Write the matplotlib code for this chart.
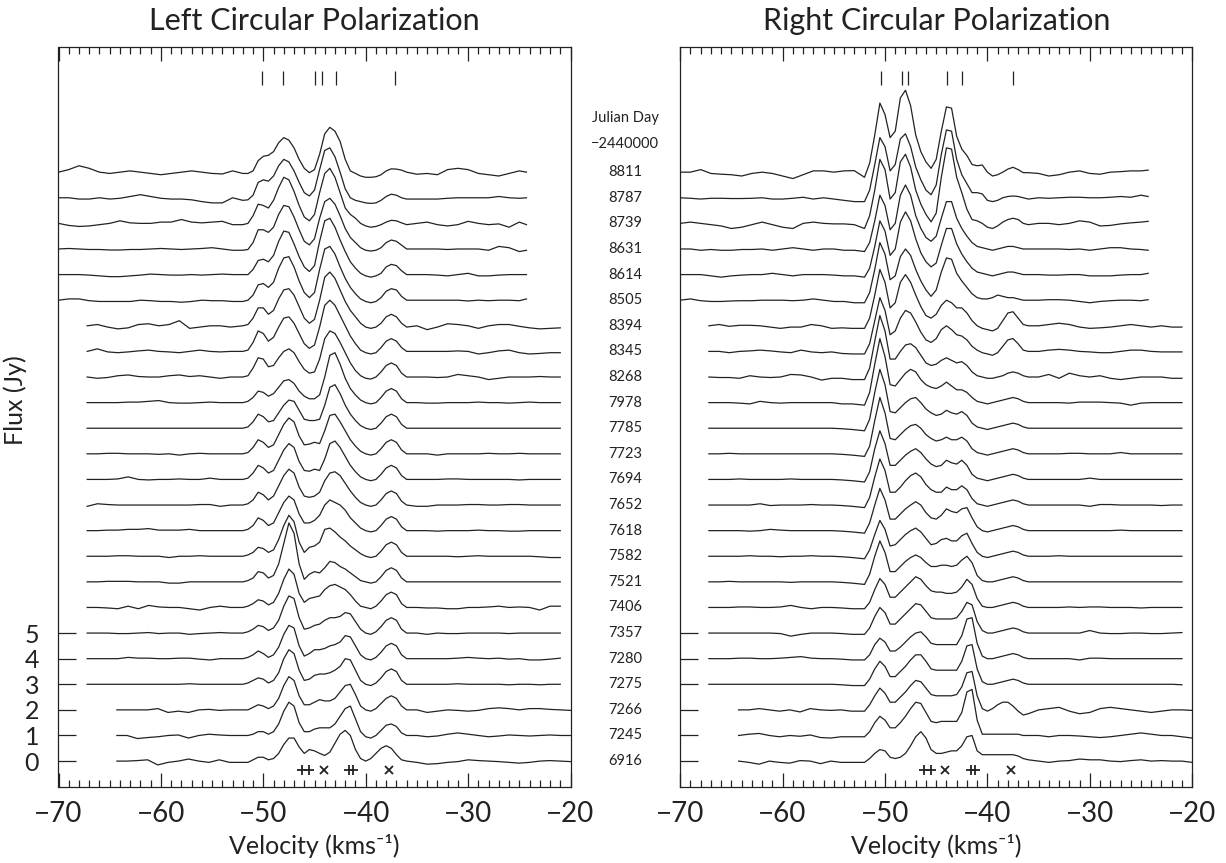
import numpy as np
import matplotlib
matplotlib.use("Agg")
import matplotlib.pyplot as plt
from matplotlib.ticker import MultipleLocator

plt.rcParams['font.family'] = ['Lato', 'DejaVu Sans']
plt.rcParams['font.weight'] = 'normal'

JULIAN_DAYS = [8811, 8787, 8739, 8631, 8614, 8505, 8394, 8345, 8268, 7978, 7785, 7723,
               7694, 7652, 7618, 7582, 7521, 7406, 7357, 7280, 7275, 7266, 7245, 6916]
V_START = [-70, -70, -70, -70, -70, -70,
           -67.2, -67.2, -67.2, -67.2, -67.2, -67.2, -67.2, -67.2, -67.2, -67.2, -67.2, -67.2, -67.2, -67.2, -67.2,
           -64.3, -64.3, -64.3]
V_END = [-24.3, -24.3, -24.3, -24.3, -24.3, -24.3,
         -21, -21, -21, -21, -21, -21, -21, -21, -21, -21, -21, -21, -21, -21, -21,
         -20, -20, -20]
CORE_V = [-52.0, -51.5, -51.0, -50.5, -50.0, -49.5, -49.0, -48.5, -48.0, -47.5, -47.0,
          -46.5, -46.0, -45.5, -45.0, -44.5, -44.0, -43.5, -43.0, -42.5, -42.0, -41.5,
          -41.0, -40.5, -40.0, -39.5, -39.0, -38.5, -38.0, -37.5, -37.0, -36.5, -36.0]

LCP_CORE = [
    [-0.05, -0.05, 0.05, 0.45, 0.62, 0.66, 0.8, 1.15, 1.35, 1.25, 0.95, 0.5, 0.15, -0.02, 0.1, 0.7, 1.5, 1.75, 1.6, 1.2, 0.5, 0.05, -0.05, -0.15, -0.2, -0.2, -0.18, -0.1, 0.05, 0.13, 0.12, 0.08, 0.0],
    [-0.1, -0.08, 0.1, 0.6, 0.7, 0.65, 0.85, 1.25, 1.5, 1.4, 1.05, 0.6, 0.2, 0.07, 0.3, 1.1, 1.85, 1.95, 1.6, 1.0, 0.35, 0.0, -0.1, -0.15, -0.2, -0.22, -0.2, -0.1, 0.05, 0.14, 0.1, 0.0, -0.05],
    [-0.05, 0.0, 0.3, 0.75, 0.7, 0.6, 0.9, 1.4, 1.8, 1.7, 1.25, 0.7, 0.25, 0.1, 0.35, 1.2, 1.95, 2.15, 1.8, 1.2, 0.6, 0.35, 0.2, 0.0, -0.1, -0.15, -0.12, -0.05, 0.05, 0.12, 0.1, 0.02, -0.05],
    [-0.05, -0.02, 0.25, 0.75, 0.75, 0.65, 0.85, 1.35, 1.7, 1.65, 1.25, 0.75, 0.3, 0.16, 0.4, 1.2, 1.85, 1.98, 1.75, 1.3, 0.8, 0.45, 0.25, 0.05, -0.05, -0.08, -0.05, 0.05, 0.25, 0.35, 0.3, 0.15, 0.0],
    [0.0, 0.0, 0.2, 0.55, 0.6, 0.5, 0.75, 1.3, 1.7, 1.65, 1.2, 0.7, 0.3, 0.12, 0.35, 1.3, 2.1, 2.2, 1.85, 1.35, 0.9, 0.5, 0.25, 0.05, -0.05, -0.1, -0.05, 0.05, 0.3, 0.4, 0.35, 0.15, 0.0],
    [-0.05, 0.0, 0.2, 0.6, 0.65, 0.5, 0.7, 1.25, 1.65, 1.7, 1.3, 0.75, 0.3, 0.1, 0.3, 1.2, 2.0, 2.1, 1.8, 1.3, 0.85, 0.5, 0.25, 0.05, -0.05, -0.1, -0.05, 0.1, 0.35, 0.45, 0.4, 0.15, 0.0],
    [0.0, 0.05, 0.3, 0.7, 0.7, 0.45, 0.6, 1.05, 1.4, 1.45, 1.2, 0.75, 0.3, 0.1, 0.25, 1.0, 1.9, 2.1, 1.85, 1.4, 0.95, 0.6, 0.35, 0.1, -0.05, -0.1, -0.05, 0.1, 0.35, 0.45, 0.35, 0.1, -0.05],
    [0.0, 0.05, 0.35, 0.8, 0.7, 0.4, 0.55, 0.95, 1.3, 1.35, 1.1, 0.7, 0.3, 0.12, 0.25, 0.95, 1.8, 2.0, 1.8, 1.4, 1.0, 0.6, 0.3, 0.05, -0.05, -0.1, -0.05, 0.15, 0.4, 0.5, 0.4, 0.15, 0.0],
    [0.0, 0.05, 0.35, 0.75, 0.7, 0.4, 0.45, 0.75, 1.0, 1.1, 0.95, 0.6, 0.3, 0.15, 0.2, 0.7, 1.5, 1.8, 1.7, 1.35, 0.95, 0.55, 0.25, 0.05, -0.05, -0.08, 0.0, 0.2, 0.45, 0.55, 0.45, 0.15, 0.0],
    [0.0, 0.05, 0.2, 0.45, 0.4, 0.25, 0.35, 0.6, 0.85, 0.9, 0.75, 0.45, 0.25, 0.15, 0.15, 0.3, 1.0, 1.85, 1.95, 1.5, 0.95, 0.55, 0.3, 0.1, 0.0, -0.05, 0.0, 0.2, 0.45, 0.55, 0.45, 0.15, 0.0],
    [0.0, 0.05, 0.25, 0.55, 0.45, 0.25, 0.3, 0.6, 0.9, 1.1, 1.05, 0.7, 0.35, 0.3, 0.3, 0.35, 0.9, 1.6, 1.7, 1.35, 0.9, 0.55, 0.3, 0.1, 0.0, -0.05, 0.0, 0.2, 0.45, 0.55, 0.45, 0.15, 0.0],
    [0.0, 0.05, 0.25, 0.55, 0.45, 0.25, 0.35, 0.75, 1.15, 1.4, 1.25, 0.7, 0.35, 0.38, 0.45, 0.4, 0.9, 1.5, 1.55, 1.25, 0.9, 0.55, 0.3, 0.1, 0.0, -0.05, 0.0, 0.2, 0.45, 0.55, 0.45, 0.15, 0.0],
    [0.0, 0.05, 0.25, 0.55, 0.45, 0.25, 0.35, 0.75, 1.15, 1.4, 1.25, 0.7, 0.35, 0.32, 0.4, 0.35, 0.8, 1.4, 1.5, 1.25, 0.9, 0.55, 0.3, 0.1, 0.0, -0.05, 0.0, 0.2, 0.45, 0.55, 0.45, 0.15, 0.0],
    [0.0, 0.05, 0.2, 0.5, 0.4, 0.2, 0.35, 0.75, 1.15, 1.4, 1.25, 0.7, 0.35, 0.3, 0.35, 0.5, 0.95, 1.25, 1.3, 1.15, 0.85, 0.55, 0.3, 0.1, 0.0, -0.05, 0.0, 0.2, 0.45, 0.55, 0.45, 0.15, 0.0],
    [0.0, 0.05, 0.2, 0.5, 0.4, 0.2, 0.3, 0.7, 1.1, 1.35, 1.2, 0.65, 0.3, 0.3, 0.4, 0.6, 1.0, 1.2, 1.1, 1.0, 0.8, 0.5, 0.3, 0.1, 0.0, -0.05, 0.0, 0.2, 0.45, 0.55, 0.45, 0.15, 0.0],
    [0.0, 0.05, 0.15, 0.35, 0.3, 0.15, 0.25, 0.65, 1.2, 1.6, 1.35, 0.55, 0.15, 0.35, 0.4, 0.55, 1.05, 1.1, 0.95, 0.75, 0.6, 0.4, 0.25, 0.1, 0.0, -0.05, 0.0, 0.2, 0.45, 0.55, 0.45, 0.15, 0.0],
    [0.0, 0.05, 0.15, 0.4, 0.35, 0.15, 0.25, 0.7, 1.5, 2.3, 1.9, 0.7, 0.1, 0.3, 0.4, 0.35, 0.55, 0.8, 0.75, 0.6, 0.5, 0.35, 0.2, 0.05, 0.0, -0.05, 0.0, 0.2, 0.45, 0.55, 0.45, 0.15, 0.0],
    [0.0, 0.05, 0.15, 0.3, 0.25, 0.1, 0.2, 0.55, 1.1, 1.5, 1.3, 0.55, 0.2, 0.35, 0.4, 0.45, 0.7, 0.85, 0.9, 0.8, 0.7, 0.5, 0.25, 0.05, 0.0, -0.05, 0.05, 0.25, 0.5, 0.6, 0.5, 0.15, 0.0],
    [0.0, 0.05, 0.15, 0.3, 0.25, 0.1, 0.2, 0.5, 1.05, 1.45, 1.35, 0.6, 0.15, 0.2, 0.3, 0.35, 0.5, 0.6, 0.6, 0.65, 0.8, 0.75, 0.45, 0.15, 0.0, -0.05, 0.05, 0.25, 0.5, 0.6, 0.5, 0.15, 0.0],
    [0.0, 0.05, 0.15, 0.3, 0.2, 0.05, 0.15, 0.45, 0.95, 1.3, 1.2, 0.5, 0.1, 0.2, 0.35, 0.35, 0.4, 0.5, 0.55, 0.65, 0.9, 0.85, 0.5, 0.15, 0.0, -0.05, 0.05, 0.25, 0.5, 0.6, 0.5, 0.15, 0.0],
    [0.0, 0.05, 0.15, 0.25, 0.2, 0.05, 0.15, 0.45, 1.0, 1.35, 1.2, 0.55, 0.15, 0.2, 0.35, 0.4, 0.4, 0.45, 0.55, 0.7, 1.0, 0.95, 0.55, 0.15, 0.0, -0.05, 0.05, 0.25, 0.5, 0.6, 0.5, 0.15, 0.0],
    [0.0, 0.0, 0.1, 0.2, 0.15, 0.05, 0.15, 0.45, 0.95, 1.3, 1.15, 0.55, 0.2, 0.2, 0.3, 0.4, 0.35, 0.35, 0.45, 0.7, 0.95, 1.0, 0.6, 0.15, 0.0, -0.05, 0.05, 0.25, 0.45, 0.55, 0.45, 0.15, 0.0],
    [0.0, 0.0, 0.05, 0.15, 0.15, 0.05, 0.15, 0.45, 0.95, 1.3, 1.15, 0.5, 0.15, 0.15, 0.25, 0.3, 0.3, 0.3, 0.45, 0.75, 1.05, 1.15, 0.65, 0.15, -0.05, -0.1, 0.0, 0.2, 0.4, 0.45, 0.35, 0.1, 0.0],
    [-0.05, -0.05, 0.05, 0.15, 0.15, 0.05, 0.1, 0.3, 0.65, 0.9, 0.9, 0.55, 0.3, 0.45, 0.4, 0.3, 0.22, 0.35, 0.7, 1.05, 1.2, 1.0, 0.45, 0.1, 0.0, 0.1, 0.3, 0.5, 0.6, 0.5, 0.25, 0.05, 0.0],
]
LCP_WING_L = [
    [0.0, 0.1, 0.25, 0.15, 0.0, -0.05, 0.0, 0.05, 0.0, -0.05, -0.1, -0.05, 0.0, 0.05, 0.0, -0.05, -0.07, 0.05],
    [0.0, 0.0, -0.05, -0.05, 0.0, -0.05, -0.02, 0.05, 0.12, 0.05, -0.02, -0.05, -0.05, -0.08, -0.15, -0.2, -0.2, 0.0],
    [0.0, -0.08, -0.12, -0.1, -0.05, 0.0, 0.1, 0.02, 0.0, 0.0, 0.05, 0.05, 0.15, 0.05, 0.02, 0.05, 0.08, -0.05],
    [0.0, 0.02, 0.0, -0.02, -0.02, -0.04, -0.04, -0.02, -0.02, 0.0, 0.02, 0.0, -0.02, 0.0, 0.02, 0.05, 0.0, -0.05],
    [0.0, 0.0, 0.0, -0.02, -0.05, -0.08, -0.08, -0.05, -0.02, 0.02, 0.0, -0.02, -0.02, 0.0, -0.02, 0.0, 0.02, 0.0],
    [0.0, 0.05, 0.05, -0.02, -0.05, -0.05, -0.05, -0.05, 0.0, -0.02, -0.05, -0.05, -0.08, -0.05, 0.0, -0.02, -0.02, -0.05],
    [0.0, 0.05, -0.05, -0.12, -0.08, 0.05, 0.08, 0.0, 0.05, 0.2, -0.1, -0.05, 0.0, 0.0, -0.05],
    [0.0, 0.1, -0.02, -0.05, -0.02, 0.02, 0.05, 0.0, -0.02, -0.05, 0.0, 0.05, 0.0, -0.02, 0.0],
    [0.0, -0.05, -0.02, 0.05, 0.08, 0.02, 0.0, 0.0, 0.05, 0.08, 0.02, 0.05, 0.0, -0.05, 0.0],
    [0.0, 0.0, 0.0, 0.0, 0.02, 0.02, 0.05, 0.08, 0.0, -0.02, -0.02, 0.0, 0.02, 0.0, 0.0],
    [0.0, 0.0, 0.0, 0.0, 0.0, 0.0, 0.0, 0.0, 0.0, 0.0, 0.0, 0.0, 0.0, 0.0, 0.0],
    [0.0, 0.0, 0.02, 0.02, 0.0, 0.0, 0.0, -0.02, 0.0, -0.05, 0.0, 0.02, 0.0, 0.0, 0.0],
    [0.0, 0.0, 0.0, 0.02, 0.1, 0.0, -0.02, 0.0, 0.0, 0.02, 0.0, 0.0, 0.05, 0.0, 0.0],
    [-0.05, 0.05, 0.02, 0.0, 0.0, 0.0, 0.0, 0.0, 0.0, 0.0, 0.0, 0.02, 0.02, -0.05, 0.0],
    [0.0, 0.0, 0.02, 0.02, 0.05, 0.05, 0.08, 0.02, 0.02, 0.02, 0.05, 0.0, 0.0, 0.0, 0.0],
    [0.0, 0.0, 0.0, 0.02, 0.02, 0.0, 0.0, 0.0, -0.05, 0.0, 0.0, 0.02, 0.0, 0.0, 0.0],
    [0.0, 0.0, 0.02, 0.02, 0.02, 0.0, 0.0, 0.0, -0.05, -0.05, 0.0, 0.0, 0.0, 0.0, 0.0],
    [0.0, 0.0, -0.02, -0.05, 0.05, -0.05, 0.08, 0.02, 0.0, 0.0, -0.05, -0.1, 0.0, 0.05, 0.0],
    [0.0, 0.0, 0.0, -0.02, -0.02, 0.0, 0.02, -0.02, 0.0, 0.0, -0.05, -0.02, 0.0, 0.02, 0.0],
    [0.0, 0.0, 0.0, 0.0, 0.05, 0.02, 0.02, 0.0, 0.0, 0.02, 0.02, -0.02, -0.05, 0.0, 0.0],
    [0.0, 0.0, 0.0, 0.0, 0.0, 0.0, 0.0, 0.0, 0.0, 0.0, 0.02, 0.0, 0.0, 0.0, 0.0],
    [0.0, 0.0, 0.0, 0.0, 0.05, -0.1, -0.05, -0.1, 0.0, 0.02, -0.02, 0.0],
    [0.0, 0.0, -0.12, -0.08, -0.05, 0.0, 0.02, -0.1, 0.0, 0.05, 0.02, 0.0],
    [0.0, 0.0, 0.02, 0.05, -0.15, -0.05, 0.0, 0.08, 0.0, -0.05, 0.05, -0.05],
]
LCP_WING_R = [
    [-0.08, -0.05, -0.1, 0.1, 0.15, 0.1, -0.05, -0.1, -0.15, -0.05, 0.05, 0.0],
    [-0.05, -0.05, -0.05, -0.02, 0.0, 0.0, 0.0, 0.0, 0.05, 0.0, -0.02, 0.0],
    [0.0, 0.05, -0.05, -0.1, -0.05, 0.08, 0.0, -0.05, -0.02, -0.15, 0.05, -0.05],
    [0.0, 0.0, 0.0, -0.02, 0.0, 0.0, 0.0, -0.05, 0.1, 0.05, -0.1, -0.05],
    [0.0, 0.0, -0.02, -0.05, 0.0, 0.05, -0.05, -0.05, -0.02, 0.0, 0.0, 0.0],
    [0.0, 0.0, 0.0, 0.0, 0.0, -0.03, 0.0, -0.02, 0.0, 0.0, -0.02, 0.05],
    [0.0, -0.15, -0.05, 0.08, 0.05, 0.0, -0.1, 0.0, 0.05, 0.05, -0.02, -0.08, -0.12, -0.1, -0.08],
    [0.0, 0.0, 0.0, 0.0, 0.02, 0.0, -0.1, -0.05, 0.02, 0.05, -0.05, -0.1, -0.08, -0.05, -0.05],
    [0.0, 0.0, -0.02, 0.0, 0.1, 0.05, 0.0, -0.1, -0.05, 0.0, 0.0, 0.0, 0.02, 0.0, 0.0],
    [0.0, -0.02, -0.02, 0.0, 0.0, 0.0, 0.02, 0.0, 0.0, -0.02, 0.0, 0.02, 0.0, 0.0, 0.0],
    [0.0, 0.0, 0.0, 0.0, 0.0, 0.0, 0.0, 0.0, 0.0, 0.0, 0.0, 0.0, 0.0, 0.0, 0.0],
    [0.0, 0.0, -0.05, 0.0, 0.0, 0.0, 0.0, 0.02, 0.0, 0.0, 0.02, 0.0, 0.0, 0.0, 0.0],
    [0.0, 0.0, 0.0, 0.02, 0.02, 0.0, 0.0, 0.0, 0.0, 0.0, -0.02, 0.0, 0.0, 0.0, 0.0],
    [-0.05, -0.05, 0.0, 0.0, 0.0, 0.02, 0.02, 0.0, 0.0, 0.02, 0.02, 0.0, 0.0, 0.0, 0.0],
    [0.0, 0.0, -0.02, 0.0, 0.0, 0.0, 0.02, 0.0, 0.0, -0.02, -0.02, 0.0, 0.0, 0.0, 0.0],
    [0.0, 0.0, 0.0, 0.0, -0.02, 0.0, 0.02, 0.0, 0.0, 0.0, 0.0, 0.0, -0.02, -0.05, -0.05],
    [0.0, 0.0, 0.0, 0.0, 0.0, 0.0, 0.0, 0.0, 0.0, 0.0, 0.0, 0.0, 0.0, 0.0, 0.0],
    [0.0, -0.02, -0.02, -0.05, -0.05, 0.0, 0.0, 0.02, 0.05, 0.0, 0.02, 0.0, -0.1, 0.05, 0.05],
    [0.0, -0.05, 0.0, -0.02, -0.02, 0.0, 0.0, 0.0, 0.0, -0.02, 0.0, 0.0, 0.0, 0.0, 0.0],
    [0.0, 0.0, 0.0, 0.0, 0.02, 0.05, 0.02, 0.0, 0.02, -0.02, 0.0, -0.05, -0.05, -0.02, 0.02],
    [0.0, 0.0, 0.0, 0.0, 0.02, 0.0, 0.0, 0.0, 0.0, -0.02, 0.0, 0.0, -0.02, 0.0, 0.0],
    [0.0, -0.1, -0.05, 0.0, -0.02, -0.05, -0.02, 0.05, 0.08, 0.05, 0.0, 0.05, 0.05, 0.02, 0.0, -0.02],
    [0.0, -0.05, -0.02, 0.05, 0.1, 0.05, 0.0, -0.05, -0.02, 0.02, 0.0, -0.02, 0.0, 0.02, 0.0, 0.0],
    [-0.05, -0.12, -0.1, -0.05, -0.02, 0.05, 0.02, 0.0, -0.02, -0.05, -0.08, -0.05, 0.0, 0.02, 0.0, -0.02],
]

RCP_CORE = [
    [-0.2, 0.35, 1.45, 2.7, 2.25, 1.35, 1.6, 2.9, 3.2, 2.6, 1.45, 0.8, 0.4, 0.15, 0.5, 1.6, 2.55, 2.5, 1.4, 0.9, 0.65, 0.3, 0.25, 0.28, 0.0, -0.15, -0.1, 0.0, 0.12, 0.19, 0.1, -0.02, -0.02],
    [-0.15, 0.3, 1.3, 2.35, 2.0, 1.05, 1.3, 2.3, 2.5, 2.0, 1.2, 0.7, 0.3, 0.12, 0.5, 1.7, 2.65, 2.6, 1.5, 0.9, 0.55, 0.2, 0.2, 0.15, -0.1, -0.15, -0.1, 0.0, 0.05, 0.07, 0.05, 0.0, -0.05],
    [-0.2, 0.3, 1.3, 2.5, 2.1, 0.95, 1.2, 2.4, 2.7, 2.2, 1.3, 0.75, 0.35, 0.06, 0.4, 1.8, 2.95, 2.9, 1.8, 1.2, 0.55, 0.15, 0.1, 0.0, -0.15, -0.2, -0.1, 0.05, 0.15, 0.2, 0.15, 0.0, -0.05],
    [-0.1, 0.25, 1.1, 2.1, 1.7, 0.75, 1.0, 2.1, 2.5, 2.1, 1.3, 0.8, 0.45, 0.3, 0.5, 1.2, 1.85, 1.85, 1.2, 0.8, 0.5, 0.25, 0.1, 0.05, 0.0, -0.05, 0.0, 0.05, 0.1, 0.1, 0.05, 0.0, 0.0],
    [-0.1, 0.25, 1.1, 2.1, 1.7, 0.75, 1.0, 2.05, 2.45, 2.1, 1.4, 0.85, 0.5, 0.3, 0.45, 1.15, 1.8, 1.8, 1.2, 0.8, 0.5, 0.25, 0.1, 0.05, 0.0, -0.05, 0.0, 0.05, 0.1, 0.1, 0.05, 0.0, 0.0],
    [-0.1, 0.3, 1.2, 2.25, 1.8, 0.8, 0.95, 1.7, 2.0, 1.75, 1.2, 0.75, 0.4, 0.15, 0.4, 1.1, 1.65, 1.6, 1.05, 0.75, 0.5, 0.25, 0.1, 0.05, 0.05, 0.1, 0.2, 0.15, 0.1, 0.1, 0.05, 0.0, 0.0],
    [-0.1, 0.3, 1.2, 2.2, 1.7, 0.7, 0.9, 1.7, 2.0, 1.7, 1.2, 0.75, 0.4, 0.3, 0.45, 0.8, 1.0, 0.9, 0.7, 0.7, 0.5, 0.2, 0.0, -0.1, -0.15, -0.2, -0.1, 0.2, 0.5, 0.55, 0.3, 0.05, 0.0],
    [-0.1, 0.3, 1.2, 2.1, 1.6, 0.65, 0.8, 1.3, 1.6, 1.5, 1.15, 0.75, 0.45, 0.35, 0.5, 0.85, 1.0, 0.85, 0.65, 0.6, 0.45, 0.2, 0.05, -0.05, -0.1, -0.15, -0.05, 0.2, 0.45, 0.5, 0.3, 0.05, 0.0],
    [-0.1, 0.35, 1.4, 2.4, 1.8, 0.7, 0.7, 1.0, 1.25, 1.3, 1.15, 0.85, 0.55, 0.45, 0.5, 0.65, 0.75, 0.65, 0.55, 0.6, 0.45, 0.2, 0.05, 0.0, -0.05, -0.05, 0.0, 0.05, 0.15, 0.2, 0.15, 0.05, 0.0],
    [-0.1, 0.4, 1.5, 2.5, 1.8, 0.7, 0.65, 0.9, 1.15, 1.3, 1.2, 0.9, 0.7, 0.6, 0.55, 0.65, 0.8, 0.65, 0.5, 0.5, 0.4, 0.2, 0.05, 0.0, -0.05, 0.0, 0.05, 0.1, 0.15, 0.2, 0.15, 0.05, 0.0],
    [-0.1, 0.35, 1.4, 2.3, 1.7, 0.65, 0.6, 0.8, 1.0, 1.15, 1.2, 1.0, 0.75, 0.6, 0.5, 0.55, 0.7, 0.6, 0.55, 0.65, 0.5, 0.2, 0.05, 0.0, -0.05, 0.0, 0.05, 0.1, 0.15, 0.2, 0.15, 0.05, 0.0],
    [-0.1, 0.3, 1.3, 2.2, 1.6, 0.6, 0.55, 0.75, 0.95, 1.1, 1.15, 1.0, 0.75, 0.6, 0.5, 0.55, 0.65, 0.55, 0.55, 0.65, 0.5, 0.2, 0.05, 0.0, -0.05, 0.0, 0.05, 0.1, 0.15, 0.2, 0.15, 0.05, 0.0],
    [-0.1, 0.3, 1.2, 1.9, 1.4, 0.55, 0.55, 0.75, 0.95, 1.1, 1.2, 1.05, 0.8, 0.6, 0.5, 0.55, 0.75, 0.65, 0.6, 0.75, 0.55, 0.2, 0.05, 0.0, -0.05, 0.0, 0.05, 0.1, 0.15, 0.2, 0.15, 0.05, 0.0],
    [-0.1, 0.3, 1.1, 1.8, 1.35, 0.5, 0.5, 0.7, 0.95, 1.15, 1.25, 1.1, 0.8, 0.6, 0.5, 0.5, 0.7, 0.6, 0.6, 0.75, 0.6, 0.25, 0.05, 0.0, -0.05, 0.0, 0.05, 0.1, 0.15, 0.2, 0.15, 0.05, 0.0],
    [-0.1, 0.3, 1.0, 1.65, 1.2, 0.45, 0.45, 0.65, 0.85, 1.0, 1.13, 1.0, 0.7, 0.5, 0.45, 0.6, 0.85, 0.75, 0.7, 0.85, 0.9, 0.5, 0.15, 0.0, -0.05, 0.0, 0.05, 0.1, 0.15, 0.2, 0.15, 0.05, 0.0],
    [-0.1, 0.25, 0.85, 1.4, 1.05, 0.4, 0.45, 0.65, 0.85, 1.0, 1.1, 0.95, 0.7, 0.45, 0.5, 0.65, 0.7, 0.6, 0.6, 0.8, 0.9, 0.5, 0.15, 0.0, -0.05, 0.0, 0.05, 0.1, 0.15, 0.2, 0.15, 0.05, 0.0],
    [-0.1, 0.3, 1.0, 1.6, 1.15, 0.4, 0.4, 0.6, 0.8, 0.95, 1.05, 0.95, 0.75, 0.6, 0.6, 0.65, 0.65, 0.6, 0.65, 0.85, 1.0, 0.75, 0.25, 0.05, 0.0, 0.0, 0.05, 0.1, 0.15, 0.2, 0.15, 0.05, 0.0],
    [-0.05, 0.2, 0.7, 1.13, 0.9, 0.4, 0.4, 0.6, 0.8, 1.0, 1.2, 1.1, 0.85, 0.65, 0.6, 0.6, 0.55, 0.55, 0.6, 0.8, 1.1, 0.9, 0.35, 0.05, 0.0, 0.0, 0.05, 0.1, 0.15, 0.2, 0.15, 0.05, 0.0],
    [-0.05, 0.2, 0.65, 1.0, 0.8, 0.35, 0.35, 0.55, 0.75, 0.95, 1.15, 1.1, 0.85, 0.6, 0.55, 0.55, 0.55, 0.55, 0.6, 0.85, 1.2, 1.1, 0.45, 0.1, 0.0, 0.0, 0.05, 0.1, 0.15, 0.2, 0.15, 0.05, 0.0],
    [-0.05, 0.15, 0.55, 0.8, 0.65, 0.3, 0.3, 0.45, 0.65, 0.85, 1.0, 1.05, 0.85, 0.6, 0.55, 0.55, 0.55, 0.55, 0.55, 0.9, 1.55, 1.6, 0.6, 0.1, 0.0, 0.0, 0.05, 0.1, 0.15, 0.2, 0.15, 0.05, 0.0],
    [-0.05, 0.2, 0.6, 0.9, 0.7, 0.3, 0.3, 0.5, 0.7, 0.95, 1.15, 1.15, 0.9, 0.6, 0.55, 0.55, 0.55, 0.55, 0.55, 0.9, 1.5, 1.55, 0.6, 0.1, 0.0, 0.0, 0.05, 0.1, 0.15, 0.2, 0.15, 0.05, 0.0],
    [-0.05, 0.2, 0.55, 0.85, 0.65, 0.3, 0.3, 0.5, 0.7, 0.95, 1.15, 1.1, 0.85, 0.6, 0.55, 0.55, 0.55, 0.55, 0.6, 0.9, 1.45, 1.5, 0.55, 0.05, -0.05, 0.05, 0.2, 0.3, 0.3, 0.15, -0.05, -0.2, -0.15],
    [-0.05, 0.15, 0.5, 0.75, 0.6, 0.3, 0.3, 0.5, 0.75, 1.05, 1.3, 1.25, 0.9, 0.55, 0.5, 0.55, 0.55, 0.55, 0.55, 0.9, 1.7, 1.8, 0.6, 0.05, 0.05, 0.05, 0.05, 0.05, 0.05, 0.05, 0.05, 0.0, 0.0],
    [-0.05, 0.1, 0.3, 0.45, 0.4, 0.15, 0.1, 0.15, 0.3, 0.6, 0.95, 1.15, 0.9, 0.45, 0.3, 0.3, 0.35, 0.4, 0.4, 0.6, 0.95, 1.0, 0.4, 0.25, 0.25, 0.25, 0.25, 0.25, 0.25, 0.25, 0.2, 0.1, 0.05],
]
RCP_WING_L = [
    [0.0, 0.0, 0.1, -0.05, -0.08, -0.1, -0.15, -0.05, 0.0, -0.05, -0.15, -0.25, -0.1, 0.05, 0.05, 0.0, 0.05, 0.06],
    [0.0, -0.02, -0.05, -0.02, -0.02, -0.03, -0.03, -0.02, 0.0, -0.05, -0.05, -0.02, 0.02, -0.05, 0.0, -0.05, -0.1, -0.15],
    [0.0, 0.05, 0.0, -0.05, -0.1, -0.2, -0.15, -0.05, 0.05, -0.05, -0.15, -0.2, 0.0, 0.05, 0.0, -0.02, -0.02, -0.05],
    [0.0, 0.0, -0.05, -0.02, -0.05, -0.05, -0.02, -0.02, 0.0, -0.05, 0.0, 0.05, 0.0, -0.05, 0.0, 0.0, -0.05, -0.05],
    [0.0, 0.0, 0.0, -0.05, -0.1, -0.05, -0.02, 0.0, 0.0, 0.05, 0.0, -0.05, 0.0, 0.0, 0.0, -0.02, -0.05, -0.05],
    [0.0, 0.05, -0.02, -0.05, -0.05, -0.03, -0.02, -0.02, 0.0, 0.0, 0.0, -0.02, 0.0, 0.05, 0.0, -0.05, -0.05, -0.1],
    [0.0, 0.05, -0.02, 0.02, 0.02, 0.0, -0.05, -0.1, -0.05, -0.05, 0.05, 0.0, -0.1, -0.08, -0.1],
    [0.0, 0.0, -0.05, 0.0, 0.02, 0.05, 0.02, -0.02, -0.05, 0.05, -0.02, -0.05, -0.02, -0.08, -0.1],
    [0.0, -0.02, -0.02, -0.05, 0.05, 0.0, -0.02, 0.0, 0.1, 0.08, 0.0, -0.12, -0.05, -0.05, -0.1],
    [0.0, 0.0, 0.0, -0.02, -0.05, 0.05, 0.0, -0.02, 0.0, 0.0, 0.0, 0.0, 0.0, -0.05, -0.05],
    [0.0, 0.0, 0.0, 0.0, 0.0, 0.0, 0.0, 0.0, 0.0, 0.0, 0.0, 0.0, 0.0, -0.02, -0.05],
    [0.0, 0.0, 0.02, 0.0, 0.0, 0.0, 0.0, 0.0, 0.0, 0.0, 0.0, 0.0, 0.0, -0.02, -0.05],
    [0.0, 0.0, 0.0, 0.02, 0.0, 0.0, 0.0, 0.0, 0.02, 0.0, 0.0, 0.0, 0.0, -0.02, -0.05],
    [0.0, 0.0, 0.0, 0.0, 0.0, 0.05, -0.02, 0.0, 0.0, 0.0, 0.02, 0.0, 0.0, -0.02, -0.05],
    [0.0, 0.0, 0.0, 0.0, -0.02, 0.0, 0.05, 0.02, 0.0, 0.0, 0.0, 0.0, 0.0, -0.02, -0.05],
    [0.0, 0.0, 0.0, 0.0, 0.02, 0.0, 0.0, -0.02, 0.0, 0.0, 0.02, 0.0, 0.0, -0.02, -0.05],
    [0.0, 0.0, 0.02, 0.0, 0.0, 0.0, 0.0, 0.0, -0.02, 0.0, 0.0, 0.0, 0.0, -0.02, -0.05],
    [0.0, 0.0, 0.0, 0.02, 0.02, 0.0, 0.0, 0.02, 0.08, 0.0, -0.05, 0.0, 0.0, -0.02, -0.05],
    [0.0, 0.0, 0.0, 0.0, 0.0, 0.0, 0.0, -0.02, -0.12, -0.05, 0.0, 0.0, 0.0, -0.02, -0.05],
    [0.0, 0.0, 0.0, 0.02, 0.02, 0.0, 0.0, 0.02, 0.05, 0.08, 0.02, 0.0, 0.0, -0.02, -0.05],
    [0.0, 0.0, 0.0, 0.0, 0.0, 0.0, 0.0, 0.0, 0.0, 0.0, 0.0, 0.0, 0.0, -0.02, -0.05],
    [0.0, 0.0, 0.05, 0.0, -0.05, 0.0, -0.08, 0.05, 0.0, -0.02, 0.0, -0.05],
    [0.0, 0.05, 0.08, 0.0, -0.05, 0.0, -0.03, 0.02, -0.08, -0.1, -0.05, -0.05],
    [0.0, -0.05, -0.12, 0.0, -0.05, -0.08, 0.02, 0.0, -0.1, 0.0, -0.05, -0.05],
]
RCP_WING_R = [
    [-0.05, -0.15, -0.1, 0.0, 0.05, -0.05, -0.08, 0.0, 0.02, 0.05, 0.05, 0.08],
    [0.0, -0.02, 0.0, 0.02, 0.02, 0.0, 0.0, 0.02, 0.05, 0.02, 0.1, 0.05],
    [0.0, 0.0, -0.05, 0.0, 0.1, 0.05, -0.1, -0.08, -0.02, 0.02, 0.05, 0.08],
    [0.0, 0.0, 0.0, -0.02, 0.0, -0.05, 0.0, 0.05, 0.05, 0.0, -0.02, -0.05],
    [0.0, -0.02, -0.02, 0.0, 0.0, -0.05, -0.05, -0.05, -0.02, 0.0, 0.0, 0.05],
    [0.0, 0.02, 0.02, 0.0, -0.05, -0.1, -0.05, -0.02, 0.0, 0.0, -0.02, 0.02],
    [0.0, 0.05, 0.1, 0.05, -0.05, -0.1, -0.08, -0.05, 0.0, 0.05, 0.0, -0.05, 0.0, -0.05, -0.05],
    [0.0, 0.05, 0.08, 0.05, 0.0, -0.02, -0.05, -0.05, 0.0, 0.05, 0.05, 0.0, -0.02, -0.02, -0.02],
    [0.0, 0.1, -0.05, 0.15, 0.05, 0.0, 0.05, -0.05, -0.1, -0.05, 0.0, 0.0, 0.0, -0.05, -0.05],
    [0.0, 0.0, 0.0, -0.02, 0.02, 0.02, 0.02, 0.0, -0.02, -0.1, -0.02, 0.0, 0.0, 0.0, 0.0],
    [0.0, 0.0, 0.0, 0.0, 0.0, 0.0, 0.0, 0.0, 0.0, 0.0, 0.0, 0.0, 0.0, 0.0, 0.0],
    [0.0, 0.0, 0.0, 0.02, 0.02, 0.0, 0.0, 0.0, 0.05, 0.0, 0.0, 0.0, 0.0, 0.0, 0.0],
    [0.0, 0.0, 0.0, 0.0, 0.0, 0.05, 0.0, 0.0, 0.0, 0.0, 0.0, 0.0, 0.0, 0.0, 0.0],
    [0.0, 0.0, 0.0, 0.0, 0.0, -0.05, 0.02, 0.02, 0.0, 0.0, 0.0, 0.0, -0.02, 0.0, 0.0],
    [0.0, 0.0, 0.0, 0.0, 0.0, 0.0, 0.0, 0.0, 0.02, 0.0, 0.0, 0.0, 0.0, 0.0, 0.0],
    [0.0, 0.0, 0.02, 0.0, 0.0, 0.0, 0.0, 0.0, 0.0, 0.0, 0.0, 0.0, 0.0, 0.0, 0.0],
    [0.0, 0.0, 0.0, 0.0, 0.0, 0.0, 0.0, 0.0, 0.0, 0.0, 0.0, 0.0, 0.0, 0.0, 0.0],
    [0.0, 0.0, 0.0, 0.02, 0.0, 0.02, 0.02, 0.0, 0.0, 0.0, -0.02, 0.0, 0.0, 0.0, 0.0],
    [0.0, 0.0, 0.0, 0.0, 0.0, 0.1, 0.0, -0.02, -0.02, 0.0, 0.0, -0.02, -0.02, 0.0, 0.02],
    [0.0, 0.0, 0.0, 0.0, -0.05, 0.02, 0.02, 0.0, 0.0, 0.0, 0.0, 0.0, 0.0, 0.0, 0.0],
    [0.0, 0.0, 0.0, 0.0, 0.0, 0.0, 0.0, 0.0, 0.0, 0.0, 0.0, 0.0, 0.0, 0.0, -0.02],
    [0.0, 0.05, 0.1, -0.05, -0.15, -0.1, 0.05, 0.1, 0.05, 0.0, -0.05, -0.1, -0.05, 0.0, 0.0, -0.02],
    [0.0, -0.05, 0.0, 0.0, -0.02, -0.05, -0.08, -0.05, 0.0, 0.05, 0.1, 0.05, 0.0, 0.0, -0.05, -0.1],
    [0.0, -0.05, 0.0, 0.02, 0.08, 0.05, 0.05, 0.0, -0.02, 0.02, 0.05, 0.0, 0.02, 0.0, 0.0, -0.05],
]

LCP_TOP_MARKS = [-50.1, -48.1, -45.0, -44.3, -42.9, -37.1]
RCP_TOP_MARKS = [-50.4, -48.3, -47.8, -43.9, -42.5, -37.5]
PLUS_MARKS = [-46.2, -45.5, -41.6, -41.2]
CROSS_MARKS = [-44.1, -37.7]
FLUX_TICKS = [0, 1, 2, 3, 4, 5]

LINE = '#222222'
W, H = 1226, 863
fig = plt.figure(figsize=(W / 100, H / 100), dpi=100)
ax_l = fig.add_axes([58.5 / W, 1 - 786.7 / H, 512 / W, 740 / H])
ax_r = fig.add_axes([680.2 / W, 1 - 786.7 / H, 512 / W, 740 / H])


def spectrum(k, core, wl, wr):
    v_l = V_START[k] + np.arange(len(wl))
    v_r = np.append(-35 + np.arange(len(wr) - 1), V_END[k])
    v = np.concatenate([v_l, CORE_V, v_r])
    f = np.concatenate([wl, core, wr])
    return v, f


n = len(JULIAN_DAYS)
for ax, core, wl, wr, top_marks, title in [
        (ax_l, LCP_CORE, LCP_WING_L, LCP_WING_R, LCP_TOP_MARKS, 'Left Circular Polarization'),
        (ax_r, RCP_CORE, RCP_WING_L, RCP_WING_R, RCP_TOP_MARKS, 'Right Circular Polarization')]:
    for k in range(n):
        v, f = spectrum(k, core[k], wl[k], wr[k])
        ax.plot(v, f + (n - 1 - k), color=LINE, lw=0.9, solid_joinstyle='round')
    ax.vlines(top_marks, 26.4, 26.95, color=LINE, lw=0.9)
    ax.plot(PLUS_MARKS, [-0.33] * len(PLUS_MARKS), ls='none', marker='+', ms=7, mew=1.3, color=LINE)
    ax.plot(CROSS_MARKS, [-0.33] * len(CROSS_MARKS), ls='none', marker='x', ms=6, mew=1.3, color=LINE)
    ax.set_xlim(-70, -20)
    ax.set_ylim(-1.0, 27.9)
    ax.xaxis.set_major_locator(MultipleLocator(10))
    ax.xaxis.set_minor_locator(MultipleLocator(1))
    ax.tick_params(axis='x', which='both', direction='in', top=True, bottom=True,
                   labelsize=20, pad=10, width=0.9, colors=LINE)
    ax.tick_params(axis='x', which='major', length=10)
    ax.tick_params(axis='x', which='minor', length=5)
    ax.set_yticks(FLUX_TICKS)
    ax.tick_params(axis='y', direction='in', length=13, width=0.9, left=True, right=False,
                   labelsize=18, pad=14, colors=LINE)
    for s in ax.spines.values():
        s.set_color(LINE)
        s.set_linewidth(0.9)
    ax.set_xlabel('Velocity (kms⁻¹)', fontsize=18, labelpad=5, color=LINE)
    ax.set_title(title, fontsize=22, pad=12, color=LINE)

ax_r.tick_params(axis='y', labelleft=False)

fig.text(15 / W, 1 - 400 / H, 'Flux (Jy)', rotation=90, ha='center', va='center',
         fontsize=18, color=LINE)

lab_x = (625 - 680.2) / 512
for k, jd in enumerate(JULIAN_DAYS):
    ax_r.text(lab_x, n - 1 - k, str(jd), transform=ax_r.get_yaxis_transform(),
              ha='center', va='center', fontsize=10.5, color=LINE)
ax_r.text(lab_x, 25.1, 'Julian Day', transform=ax_r.get_yaxis_transform(),
          ha='center', va='center', fontsize=10.5, color=LINE)
ax_r.text(lab_x, 24.1, '\u22122440000', transform=ax_r.get_yaxis_transform(),
          ha='center', va='center', fontsize=10.5, color=LINE)

fig.savefig('out.png', dpi=100)
